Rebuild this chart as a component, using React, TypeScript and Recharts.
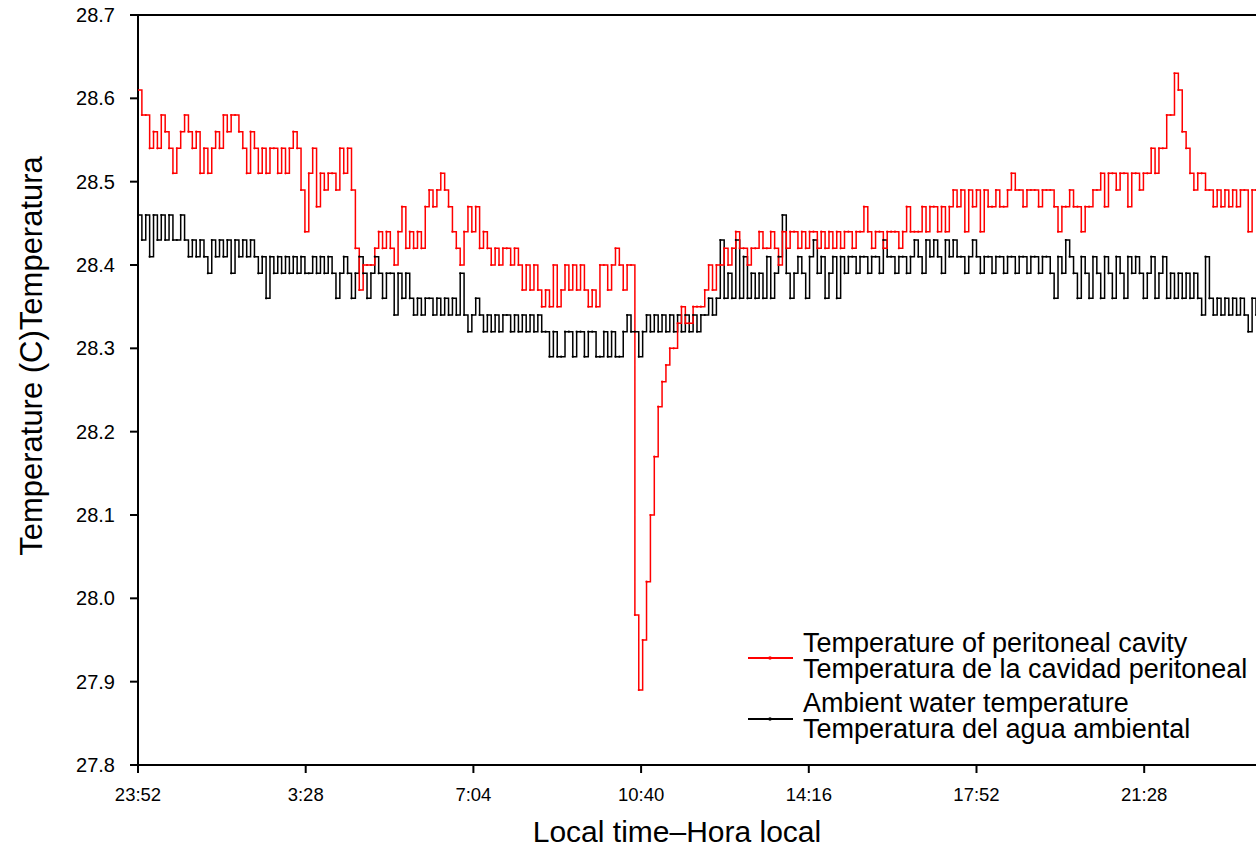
import React from "react";
import {
  LineChart,
  Line,
  XAxis,
  YAxis,
  ReferenceLine,
} from "recharts";

// one reading every 5 minutes, starting at 23:52
const STEP_MIN = 5;

const tickMinutes = [0, 216, 432, 648, 864, 1080, 1296];
const tickLabels = ["23:52", "3:28", "7:04", "10:40", "14:16", "17:52", "21:28"];
const yTicks = [27.8, 27.9, 28.0, 28.1, 28.2, 28.3, 28.4, 28.5, 28.6, 28.7];

// temperature of peritoneal cavity (C)
const peritoneal = [
  28.61, 28.58, 28.58, 28.54, 28.56, 28.54, 28.58, 28.56, 28.54, 28.51,
  28.54, 28.56, 28.58, 28.56, 28.54, 28.56, 28.51, 28.54, 28.51, 28.54,
  28.56, 28.54, 28.58, 28.56, 28.58, 28.58, 28.56, 28.54, 28.51, 28.56,
  28.54, 28.51, 28.54, 28.51, 28.54, 28.54, 28.51, 28.54, 28.51, 28.54,
  28.56, 28.54, 28.49, 28.44, 28.51, 28.54, 28.47, 28.51, 28.49, 28.51,
  28.51, 28.49, 28.54, 28.51, 28.54, 28.49, 28.42, 28.37, 28.40, 28.40,
  28.40, 28.42, 28.44, 28.42, 28.44, 28.42, 28.40, 28.44, 28.47, 28.42,
  28.44, 28.42, 28.44, 28.42, 28.47, 28.49, 28.47, 28.49, 28.51, 28.49,
  28.47, 28.44, 28.42, 28.40, 28.44, 28.47, 28.44, 28.47, 28.42, 28.44,
  28.42, 28.40, 28.42, 28.40, 28.42, 28.42, 28.40, 28.42, 28.40, 28.37,
  28.40, 28.37, 28.40, 28.37, 28.35, 28.37, 28.35, 28.40, 28.35, 28.37,
  28.40, 28.37, 28.40, 28.37, 28.40, 28.37, 28.35, 28.37, 28.35, 28.40,
  28.40, 28.37, 28.40, 28.42, 28.40, 28.37, 28.40, 28.40, 27.98, 27.89,
  27.95, 28.02, 28.10, 28.17, 28.23, 28.26, 28.28, 28.30, 28.30, 28.33,
  28.35, 28.33, 28.33, 28.35, 28.35, 28.35, 28.37, 28.40, 28.37, 28.40,
  28.40, 28.42, 28.40, 28.42, 28.44, 28.42, 28.42, 28.40, 28.42, 28.42,
  28.44, 28.42, 28.42, 28.44, 28.42, 28.40, 28.44, 28.42, 28.44, 28.44,
  28.42, 28.44, 28.42, 28.44, 28.44, 28.42, 28.44, 28.42, 28.44, 28.42,
  28.44, 28.42, 28.44, 28.44, 28.42, 28.44, 28.44, 28.47, 28.44, 28.42,
  28.44, 28.44, 28.42, 28.44, 28.44, 28.44, 28.42, 28.44, 28.47, 28.44,
  28.44, 28.44, 28.47, 28.44, 28.47, 28.47, 28.44, 28.47, 28.44, 28.47,
  28.49, 28.47, 28.49, 28.44, 28.49, 28.47, 28.49, 28.44, 28.49, 28.47,
  28.47, 28.49, 28.47, 28.47, 28.49, 28.51, 28.49, 28.49, 28.47, 28.49,
  28.49, 28.49, 28.47, 28.49, 28.49, 28.49, 28.47, 28.44, 28.47, 28.47,
  28.49, 28.47, 28.47, 28.44, 28.47, 28.47, 28.49, 28.49, 28.51, 28.47,
  28.51, 28.51, 28.49, 28.51, 28.51, 28.47, 28.51, 28.51, 28.49, 28.51,
  28.51, 28.54, 28.51, 28.54, 28.54, 28.58, 28.58, 28.63, 28.61, 28.56,
  28.54, 28.51, 28.49, 28.51, 28.51, 28.49, 28.49, 28.47, 28.49, 28.47,
  28.49, 28.47, 28.49, 28.47, 28.49, 28.49, 28.44, 28.49, 28.49,
];

// ambient water temperature (C)
const ambient = [
  28.46, 28.43, 28.46, 28.41, 28.46, 28.43, 28.46, 28.43, 28.46, 28.43,
  28.43, 28.46, 28.43, 28.41, 28.43, 28.41, 28.43, 28.41, 28.39, 28.43,
  28.41, 28.43, 28.41, 28.43, 28.39, 28.43, 28.41, 28.43, 28.41, 28.43,
  28.41, 28.39, 28.41, 28.36, 28.41, 28.39, 28.41, 28.39, 28.41, 28.39,
  28.41, 28.39, 28.41, 28.39, 28.39, 28.41, 28.39, 28.41, 28.39, 28.41,
  28.39, 28.36, 28.39, 28.41, 28.39, 28.36, 28.39, 28.41, 28.39, 28.36,
  28.39, 28.41, 28.39, 28.36, 28.39, 28.39, 28.34, 28.39, 28.36, 28.39,
  28.36, 28.34, 28.36, 28.34, 28.36, 28.36, 28.34, 28.36, 28.34, 28.36,
  28.34, 28.36, 28.34, 28.39, 28.34, 28.32, 28.34, 28.36, 28.34, 28.32,
  28.34, 28.32, 28.34, 28.32, 28.34, 28.34, 28.32, 28.34, 28.32, 28.34,
  28.32, 28.34, 28.32, 28.34, 28.32, 28.32, 28.29, 28.32, 28.29, 28.29,
  28.32, 28.32, 28.29, 28.32, 28.32, 28.29, 28.32, 28.32, 28.29, 28.29,
  28.32, 28.29, 28.32, 28.29, 28.29, 28.32, 28.34, 28.32, 28.32, 28.29,
  28.32, 28.34, 28.32, 28.34, 28.32, 28.34, 28.32, 28.34, 28.32, 28.34,
  28.32, 28.34, 28.32, 28.34, 28.32, 28.34, 28.34, 28.36, 28.34, 28.36,
  28.43, 28.36, 28.39, 28.36, 28.43, 28.36, 28.41, 28.36, 28.39, 28.36,
  28.39, 28.36, 28.41, 28.36, 28.39, 28.41, 28.46, 28.39, 28.36, 28.39,
  28.41, 28.39, 28.36, 28.41, 28.43, 28.39, 28.41, 28.36, 28.39, 28.41,
  28.36, 28.41, 28.39, 28.41, 28.41, 28.39, 28.41, 28.41, 28.39, 28.41,
  28.41, 28.39, 28.43, 28.41, 28.41, 28.39, 28.41, 28.41, 28.39, 28.41,
  28.43, 28.41, 28.39, 28.43, 28.41, 28.43, 28.41, 28.39, 28.43, 28.41,
  28.43, 28.41, 28.41, 28.39, 28.41, 28.43, 28.41, 28.39, 28.41, 28.41,
  28.39, 28.41, 28.41, 28.39, 28.41, 28.41, 28.39, 28.41, 28.41, 28.39,
  28.41, 28.41, 28.39, 28.41, 28.41, 28.39, 28.36, 28.41, 28.39, 28.43,
  28.41, 28.39, 28.36, 28.41, 28.39, 28.36, 28.41, 28.39, 28.36, 28.41,
  28.39, 28.36, 28.41, 28.39, 28.36, 28.41, 28.39, 28.41, 28.39, 28.36,
  28.39, 28.41, 28.36, 28.39, 28.41, 28.36, 28.39, 28.36, 28.39, 28.36,
  28.39, 28.36, 28.39, 28.36, 28.34, 28.41, 28.36, 28.34, 28.36, 28.34,
  28.36, 28.34, 28.36, 28.34, 28.36, 28.34, 28.32, 28.36, 28.34,
];

const FONT = "'Liberation Sans', Arial, sans-serif";

const data = peritoneal.map((v, i) => ({
  t: i * STEP_MIN,
  peritoneal: v,
  ambient: ambient[i],
}));

const legendItems = [
  { color: "#ff0000", lines: ["Temperature of peritoneal cavity", "Temperatura de la cavidad peritoneal"] },
  { color: "#000000", lines: ["Ambient water temperature", "Temperatura del agua ambiental"] },
];

// legend drawn over the chart at the lower right, like the original figure
const LegendBox = () => (
  <div
    style={{
      position: "absolute",
      left: 746,
      top: 630,
      fontFamily: FONT,
      fontSize: 27,
      lineHeight: "26px",
      color: "#000",
    }}
  >
    {legendItems.map((item, k) => (
      <div key={k} style={{ position: "relative", height: 60, whiteSpace: "nowrap" }}>
        <svg width={50} height={60} style={{ position: "absolute", left: 0, top: 0 }}>
          <line x1={2} y1={28 + k} x2={47} y2={28 + k} stroke={item.color} strokeWidth={2} />
          <circle cx={24} cy={28 + k} r={1.8} fill={item.color} />
        </svg>
        <div style={{ position: "absolute", left: 57, top: 0 }}>
          {item.lines.map((l, j) => (
            <div key={j}>{l}</div>
          ))}
        </div>
      </div>
    ))}
  </div>
);

export default function App() {
  return (
    <div style={{ position: "absolute", left: 0, top: 0, width: 1256, height: 850, overflow: "hidden", background: "#fff" }}>
      <LineChart
        width={1256}
        height={850}
        data={data}
        margin={{ top: 15, right: 0, bottom: 0, left: 0 }}
        style={{ fontFamily: FONT }}
      >
        <XAxis
          dataKey="t"
          type="number"
          domain={[0, 1440]}
          ticks={tickMinutes}
          tickFormatter={(v: number) => tickLabels[tickMinutes.indexOf(v)] ?? ""}
          height={85}
          tickSize={8}
          tickMargin={15}
          stroke="#000"
          strokeWidth={2}
          tick={{ fill: "#000", fontSize: 18.5 }}
          allowDataOverflow
        />
        <YAxis
          type="number"
          domain={[27.8, 28.7]}
          ticks={yTicks}
          tickFormatter={(v: number) => v.toFixed(1)}
          width={138}
          tickSize={8}
          tickMargin={15}
          stroke="#000"
          strokeWidth={2}
          tick={{ fill: "#000", fontSize: 20 }}
          allowDataOverflow
        />
        <ReferenceLine y={28.7} stroke="#000" strokeWidth={2} />
        <Line
          type="stepAfter"
          dataKey="ambient"
          stroke="#000"
          strokeWidth={1.5}
          dot={{ r: 1.1, fill: "#000", stroke: "none" }}
          isAnimationActive={false}
        />
        <Line
          type="stepAfter"
          dataKey="peritoneal"
          stroke="#ff0000"
          strokeWidth={1.5}
          dot={{ r: 1.1, fill: "#ff0000", stroke: "none" }}
          isAnimationActive={false}
        />
        <text x={677} y={842} textAnchor="middle" fontSize={30} fill="#000" fontFamily={FONT}>
          Local time–Hora local
        </text>
        <text
          x={42}
          y={356}
          textAnchor="middle"
          fontSize={31}
          fill="#000"
          fontFamily={FONT}
          transform="rotate(-90 42 356)"
        >
          Temperature (C)Temperatura
        </text>
      </LineChart>
      <LegendBox />
    </div>
  );
}
